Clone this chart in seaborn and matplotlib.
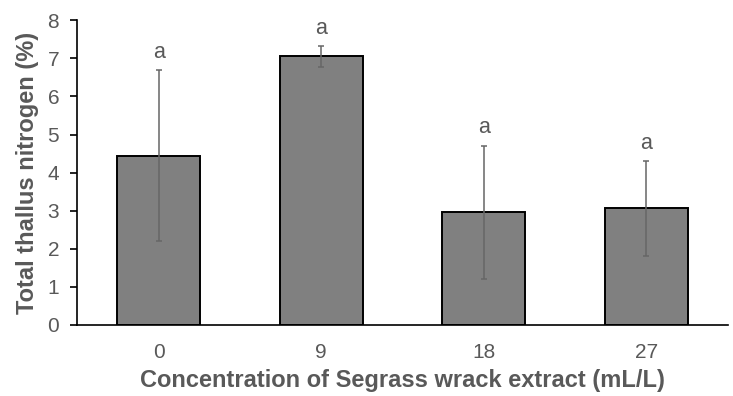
import matplotlib
matplotlib.use("Agg")
import matplotlib.pyplot as plt
import seaborn as sns
import pandas as pd
import numpy as np

categories = ["0", "9", "18", "27"]
means = [4.45, 7.05, 2.96, 3.06]
errors = [2.24, 0.27, 1.74, 1.24]
letters = ["a", "a", "a", "a"]
yticks = [0, 1, 2, 3, 4, 5, 6, 7, 8]

sns.set_theme(style="white")
plt.rcParams["font.family"] = ["Liberation Sans", "DejaVu Sans"]

df = pd.DataFrame({"conc": categories, "n": means})

W, H = 733, 396
fig = plt.figure(figsize=(W / 100, H / 100), dpi=100)
left, right, top, bottom = 77.3, 727.7, 20.3, 325.0
ax = fig.add_axes([left / W, 1 - bottom / H, (right - left) / W, (bottom - top) / H])

sns.barplot(data=df, x="conc", y="n", order=categories, color="#808080",
            saturation=1, width=0.51, edgecolor="black", linewidth=1.4,
            errorbar=None, ax=ax)

xs = np.arange(len(categories))
ax.errorbar(xs, means, yerr=errors, fmt="none", ecolor="#666666",
            elinewidth=1.1, capsize=2.2, capthick=1.1)

for x, m, e, t in zip(xs, means, errors, letters):
    ax.annotate(t, (x, m + e), xytext=(0, 5.5), textcoords="offset points",
                ha="center", va="bottom", fontsize=15.5, color="#595959")

ax.set_ylim(0, 8)
ax.set_xlim(-0.5, 3.5)
ax.set_yticks(yticks)
ax.set_yticklabels([str(v) for v in yticks])
for s in ["top", "right"]:
    ax.spines[s].set_visible(False)
for s in ["left", "bottom"]:
    ax.spines[s].set_color("black")
    ax.spines[s].set_linewidth(1.2)
ax.tick_params(axis="y", left=True, direction="out", length=5, width=1.2,
               color="black", labelsize=15, labelcolor="#595959", pad=8)
ax.tick_params(axis="x", bottom=False, labelsize=15, labelcolor="#595959", pad=7)

ax.set_xlabel("Concentration of Segrass wrack extract (mL/L)", fontsize=17,
              fontweight="bold", color="#595959", labelpad=5)
ax.set_ylabel("Total thallus nitrogen (%)", fontsize=17,
              fontweight="bold", color="#595959", labelpad=6)

fig.savefig("out.png", dpi=100)
